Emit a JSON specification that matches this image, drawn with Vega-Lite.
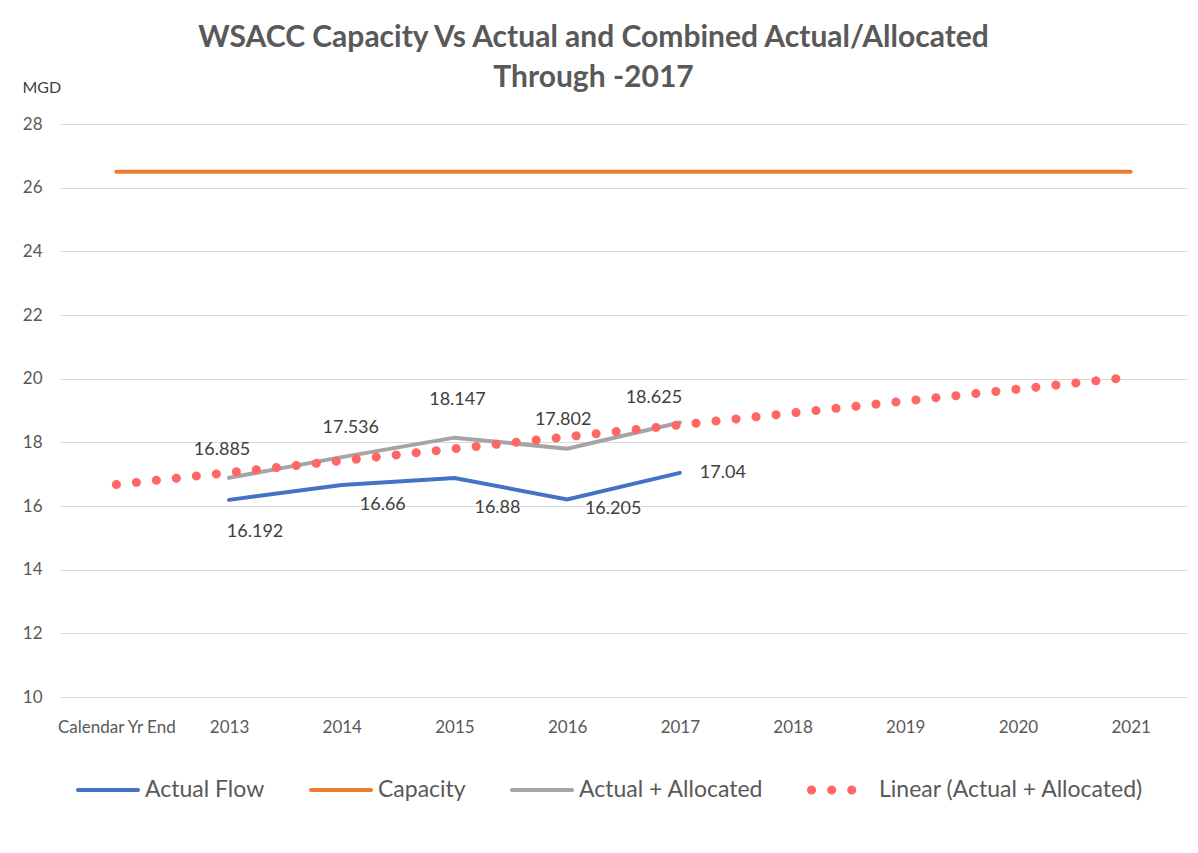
{
  "$schema": "https://vega.github.io/schema/vega-lite/v6.json",
  "width": 1127,
  "height": 573,
  "autosize": {"type": "none"},
  "padding": {"left": 60, "top": 124, "right": 11, "bottom": 156},
  "background": "white",
  "title": {
    "text": ["WSACC Capacity Vs Actual and Combined Actual/Allocated", "Through -2017"],
    "font": "Lato",
    "fontSize": 30,
    "fontWeight": "bold",
    "color": "#595959",
    "anchor": "middle",
    "dx": -30,
    "dy": 50,
    "lineHeight": 40,
    "offset": 36
  },
  "config": {
    "view": {"stroke": null},
    "font": "Lato",
    "axis": {"domain": false, "ticks": false, "labelFont": "Lato", "labelColor": "#595959", "labelFontSize": 17},
    "legend": {
      "orient": "none",
      "direction": "horizontal",
      "labelFont": "Lato",
      "labelFontSize": 23,
      "labelColor": "#595959",
      "labelLimit": 0,
      "symbolType": "stroke",
      "title": null
    }
  },
  "resolve": {"scale": {"color": "independent"}, "legend": {"color": "independent"}},
  "data": {
    "values": [
      {"series": "Actual Flow", "year": "2013", "value": 16.192},
      {"series": "Actual Flow", "year": "2014", "value": 16.66},
      {"series": "Actual Flow", "year": "2015", "value": 16.88},
      {"series": "Actual Flow", "year": "2016", "value": 16.205},
      {"series": "Actual Flow", "year": "2017", "value": 17.04},
      {"series": "Capacity", "year": "Calendar Yr End", "value": 26.5},
      {"series": "Capacity", "year": "2013", "value": 26.5},
      {"series": "Capacity", "year": "2014", "value": 26.5},
      {"series": "Capacity", "year": "2015", "value": 26.5},
      {"series": "Capacity", "year": "2016", "value": 26.5},
      {"series": "Capacity", "year": "2017", "value": 26.5},
      {"series": "Capacity", "year": "2018", "value": 26.5},
      {"series": "Capacity", "year": "2019", "value": 26.5},
      {"series": "Capacity", "year": "2020", "value": 26.5},
      {"series": "Capacity", "year": "2021", "value": 26.5},
      {"series": "Actual + Allocated", "year": "2013", "value": 16.885},
      {"series": "Actual + Allocated", "year": "2014", "value": 17.536},
      {"series": "Actual + Allocated", "year": "2015", "value": 18.147},
      {"series": "Actual + Allocated", "year": "2016", "value": 17.802},
      {"series": "Actual + Allocated", "year": "2017", "value": 18.625},
      {"series": "Linear (Actual + Allocated)", "year": "Calendar Yr End", "value": 16.675},
      {"series": "Linear (Actual + Allocated)", "year": "2021", "value": 20.047}
    ]
  },
  "encoding": {
    "x": {
      "field": "year",
      "type": "ordinal",
      "scale": {"type": "point", "padding": 0.5, "domain": ["Calendar Yr End", "2013", "2014", "2015", "2016", "2017", "2018", "2019", "2020", "2021"]},
      "axis": {"title": null, "labelAngle": 0, "labelPadding": 22, "grid": false}
    },
    "y": {
      "field": "value",
      "type": "quantitative",
      "scale": {"domain": [10, 28], "nice": false, "zero": false},
      "axis": {
        "values": [10, 12, 14, 16, 18, 20, 22, 24, 26, 28],
        "grid": true,
        "gridColor": "#D9D9D9",
        "gridWidth": 1.2,
        "labelPadding": 18,
        "title": "MGD",
        "titleAngle": 0,
        "titleX": -38,
        "titleY": -37,
        "titleAlign": "left",
        "titleBaseline": "middle",
        "titleFont": "Lato",
        "titleFontSize": 16,
        "titleFontWeight": "normal",
        "titleColor": "#404040"
      }
    }
  },
  "layer": [
    {
      "transform": [{"filter": "datum.series !== 'Linear (Actual + Allocated)'"}],
      "mark": {"type": "line", "strokeCap": "round", "strokeJoin": "miter", "strokeWidth": 4},
      "encoding": {
        "color": {
          "field": "series",
          "type": "nominal",
          "scale": {"domain": ["Actual Flow", "Capacity", "Actual + Allocated"], "range": ["#4472C4", "#ED7D31", "#A5A5A5"]},
          "legend": {
            "legendX": 16,
            "legendY": 634,
            "symbolSize": 3600,
            "symbolStrokeWidth": 4,
            "labelOffset": 5,
            "columnPadding": 38,
            "encode": {"symbols": {"update": {"strokeCap": {"value": "round"}}}}
          }
        }
      }
    },
    {
      "transform": [{"filter": "datum.series === 'Linear (Actual + Allocated)'"}],
      "mark": {"type": "line", "strokeCap": "round", "strokeWidth": 9, "strokeDash": [0.1, 20]},
      "encoding": {
        "color": {
          "field": "series",
          "type": "nominal",
          "scale": {"domain": ["Linear (Actual + Allocated)"], "range": ["#FF6666"]},
          "legend": {
            "legendX": 747,
            "legendY": 639,
            "symbolSize": 2025,
            "symbolStrokeWidth": 9,
            "symbolDash": [0.1, 20],
            "labelOffset": 18,
            "encode": {"symbols": {"update": {"strokeCap": {"value": "round"}}}}
          }
        }
      }
    },
    {"transform": [{"filter": "datum.series === 'Actual + Allocated' && datum.year === '2013'"}], "mark": {"type": "text", "fontSize": 18, "color": "#404040", "dx": -7, "dy": -28}, "encoding": {"text": {"field": "value", "type": "nominal"}}},
    {"transform": [{"filter": "datum.series === 'Actual + Allocated' && datum.year === '2014'"}], "mark": {"type": "text", "fontSize": 18, "color": "#404040", "dx": 9, "dy": -29}, "encoding": {"text": {"field": "value", "type": "nominal"}}},
    {"transform": [{"filter": "datum.series === 'Actual + Allocated' && datum.year === '2015'"}], "mark": {"type": "text", "fontSize": 18, "color": "#404040", "dx": 3, "dy": -38}, "encoding": {"text": {"field": "value", "type": "nominal"}}},
    {"transform": [{"filter": "datum.series === 'Actual + Allocated' && datum.year === '2016'"}], "mark": {"type": "text", "fontSize": 18, "color": "#404040", "dx": -4, "dy": -29}, "encoding": {"text": {"field": "value", "type": "nominal"}}},
    {"transform": [{"filter": "datum.series === 'Actual + Allocated' && datum.year === '2017'"}], "mark": {"type": "text", "fontSize": 18, "color": "#404040", "dx": -26, "dy": -24}, "encoding": {"text": {"field": "value", "type": "nominal"}}},
    {"transform": [{"filter": "datum.series === 'Actual Flow' && datum.year === '2013'"}], "mark": {"type": "text", "fontSize": 18, "color": "#404040", "dx": 26, "dy": 32}, "encoding": {"text": {"field": "value", "type": "nominal"}}},
    {"transform": [{"filter": "datum.series === 'Actual Flow' && datum.year === '2014'"}], "mark": {"type": "text", "fontSize": 18, "color": "#404040", "dx": 41, "dy": 20}, "encoding": {"text": {"field": "value", "type": "nominal"}}},
    {"transform": [{"filter": "datum.series === 'Actual Flow' && datum.year === '2015'"}], "mark": {"type": "text", "fontSize": 18, "color": "#404040", "dx": 43, "dy": 30}, "encoding": {"text": {"field": "value", "type": "nominal"}}},
    {"transform": [{"filter": "datum.series === 'Actual Flow' && datum.year === '2016'"}], "mark": {"type": "text", "fontSize": 18, "color": "#404040", "dx": 46, "dy": 10}, "encoding": {"text": {"field": "value", "type": "nominal"}}},
    {"transform": [{"filter": "datum.series === 'Actual Flow' && datum.year === '2017'"}], "mark": {"type": "text", "fontSize": 18, "color": "#404040", "dx": 43, "dy": 0}, "encoding": {"text": {"field": "value", "type": "nominal"}}}
  ]
}
